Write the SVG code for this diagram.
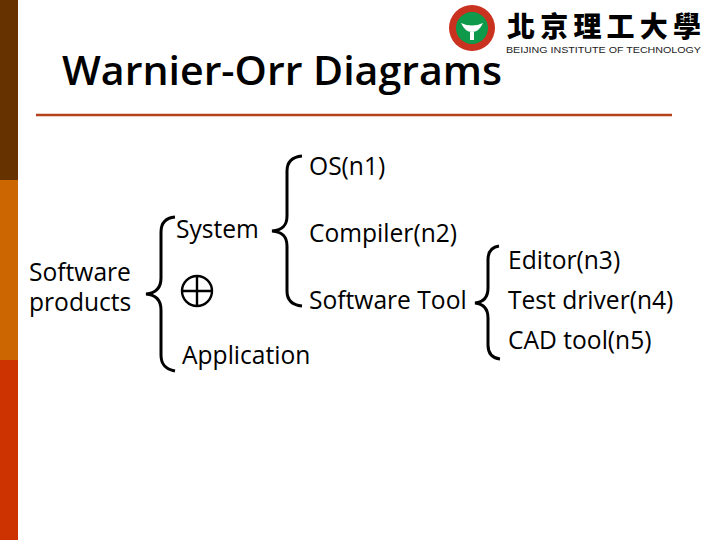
<svg xmlns="http://www.w3.org/2000/svg" width="720" height="540" viewBox="0 0 720 540">
<style>
text{font-family:"Open Sans","Noto Sans","Liberation Sans",sans-serif;fill:#000}
.t{font-size:24.6px}
.b{fill:none;stroke:#000;stroke-width:3}
</style>
<rect width="720" height="540" fill="#fff"/>
<rect x="0" y="0" width="18" height="180" fill="#663300"/>
<rect x="0" y="180" width="18" height="180" fill="#CC6600"/>
<rect x="0" y="360" width="18" height="180" fill="#CC3300"/>
<line x1="36" y1="115" x2="672" y2="115" stroke="#B5421A" stroke-width="2.5"/>
<g id="logo">
<circle cx="472" cy="28" r="23" fill="#C8321E"/>
<circle cx="472" cy="28" r="16" fill="#0E9A4A"/>
<path d="M461 23q11 5 22 0q-4 9-11 9t-11-9z" fill="#fff"/>
<rect x="470" y="32" width="4" height="8" fill="#fff"/>
<text x="507" y="37" font-size="28" font-weight="900" textLength="194" lengthAdjust="spacing" style="font-family:'Noto Sans CJK TC','Noto Sans CJK SC',sans-serif">北京理工大學</text>
<text x="506" y="53" font-size="9.5" textLength="195" lengthAdjust="spacingAndGlyphs" style="font-family:'Liberation Sans',sans-serif;fill:#222">BEIJING INSTITUTE OF TECHNOLOGY</text>
</g>
<text id="title" x="62" y="85" font-size="40" font-weight="600" textLength="440" lengthAdjust="spacingAndGlyphs">Warnier-Orr Diagrams</text>
<g id="connectors">
<path class="b" d="M175 217C165 218 161 223 161 232V278C161 287 157 293 146 294C157 295 161 301 161 310V355C161 364 165 369 175 371"/>
<path class="b" d="M302 156C292 157 287 162 287 171V216C287 225 283 230 272 231C283 232 287 237 287 246V291C287 300 292 305 302 306"/>
<path class="b" d="M499 246C492 247 488 251 488 260V288C488 297 484 302 475 303C484 304 488 309 488 318V345C488 354 492 358 500 359"/>
</g>
<g id="software-products"><text class="t" x="29" y="281">Software</text><text class="t" x="29" y="311">products</text></g>
<g id="system"><text class="t" x="176" y="238">System</text></g>
<g id="xor"><circle cx="197" cy="291" r="15" fill="none" stroke="#000" stroke-width="2.4"/><path d="M197 276V306M182 291H212" stroke="#000" stroke-width="2.4" fill="none"/></g>
<g id="application"><text class="t" x="182" y="364">Application</text></g>
<g id="os"><text class="t" x="309" y="175">OS(n1)</text></g>
<g id="compiler"><text class="t" x="309" y="242">Compiler(n2)</text></g>
<g id="software-tool"><text class="t" x="309" y="309">Software Tool</text></g>
<g id="editor"><text class="t" x="508" y="269">Editor(n3)</text></g>
<g id="test-driver"><text class="t" x="508" y="309">Test driver(n4)</text></g>
<g id="cad"><text class="t" x="508" y="349">CAD tool(n5)</text></g>
</svg>
